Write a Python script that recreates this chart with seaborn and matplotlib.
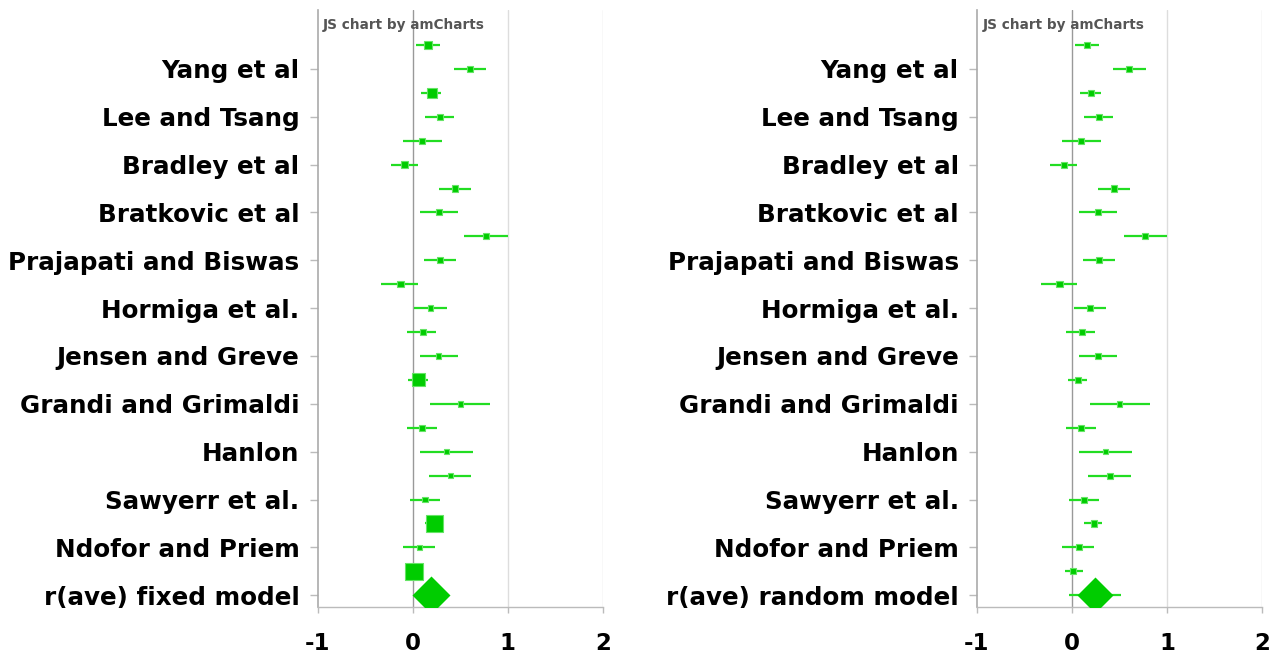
import numpy as np
import pandas as pd
import matplotlib
matplotlib.use("Agg")
import matplotlib.pyplot as plt
import seaborn as sns

# ---- data ----
study_labels = ["", "Yang et al", "", "Lee and Tsang", "", "Bradley et al", "",
                "Bratkovic et al", "", "Prajapati and Biswas", "", "Hormiga et al.",
                "", "Jensen and Greve", "", "Grandi and Grimaldi", "", "Hanlon", "",
                "Sawyerr et al.", "", "Ndofor and Priem", ""]
effect = [0.16, 0.60, 0.20, 0.285, 0.10, -0.085, 0.441, 0.272, 0.772, 0.286, -0.13, 0.186,
          0.104, 0.271, 0.06, 0.50, 0.10, 0.356, 0.40, 0.13, 0.23, 0.071, 0.012]
ci_low = [0.032, 0.43, 0.087, 0.13, -0.099, -0.228, 0.274, 0.073, 0.543, 0.118, -0.328, 0.019,
          -0.058, 0.073, -0.044, 0.186, -0.058, 0.073, 0.174, -0.028, 0.13, -0.10, -0.07]
ci_high = [0.285, 0.774, 0.302, 0.43, 0.304, 0.059, 0.616, 0.472, 1.0, 0.456, 0.059, 0.356,
           0.243, 0.472, 0.16, 0.816, 0.258, 0.63, 0.618, 0.288, 0.319, 0.23, 0.115]
weight_fixed = [16, 6.3, 20, 7.6, 7.6, 12, 7.6, 7.6, 7.6, 7.6, 9, 6.3,
                7.6, 6.3, 36, 6.3, 6.3, 6.3, 6.3, 6.3, 64, 6.3, 64]
weight_random = [7.6, 7.6, 7.6, 7.6, 7.6, 7.6, 7.6, 7.6, 7.6, 7.6, 7.6, 7.6,
                 7.6, 7.6, 7.6, 6.3, 7.6, 6.3, 7.6, 7.6, 7.6, 7.6, 7.6]
summary_labels = ["r(ave) fixed model", "r(ave) random model"]
summary_effect = [0.19, 0.247]
summary_low = [0.16, -0.028]
summary_high = [0.22, 0.517]
x_ticks = [-1, 0, 1, 2]

# ---- style ----
W, H = 1273, 666
DPI = 100
PX = 72 / DPI
GREEN = "#00CC00"
LINE_GREEN = "#22DD22"
EDGE_GREEN = "#66E466"

sns.set_theme(style="white")
plt.rcParams["font.family"] = ["DejaVu Sans"]

fig = plt.figure(figsize=(W / DPI, H / DPI), dpi=DPI)
ax_rects = [[317.5 / W, 59 / H, 285.5 / W, 597 / H],
            [976.7 / W, 59 / H, 285.5 / W, 597 / H]]
weights = [weight_fixed, weight_random]

n = len(effect)
for k in range(2):
    ax = fig.add_axes(ax_rects[k])
    df = pd.DataFrame({
        "effect": effect,
        "row": np.arange(n),
        "w": weights[k],
    })
    # confidence intervals
    ax.hlines(df["row"], ci_low, ci_high, color=LINE_GREEN, lw=1.6, zorder=3)
    ax.hlines([n], [summary_low[k]], [summary_high[k]], color=LINE_GREEN, lw=1.6, zorder=3)
    # study squares
    uniq = sorted(set(df["w"]))
    sizes = {v: v * 4.8 * PX * PX for v in uniq}
    sns.scatterplot(data=df, x="effect", y="row", size="w", sizes=sizes,
                    marker="s", color=GREEN, edgecolor=EDGE_GREEN, linewidth=0.8,
                    legend=False, ax=ax, zorder=4)
    # summary diamond
    sdf = pd.DataFrame({"effect": [summary_effect[k]], "row": [n]})
    dsz = (38 if k == 0 else 36) / np.sqrt(2) * PX
    sns.scatterplot(data=sdf, x="effect", y="row", marker="D", s=dsz ** 2,
                    color=GREEN, edgecolor=GREEN, linewidth=0, legend=False, ax=ax, zorder=5)

    ax.set_xlim(-1, 2)
    ax.set_ylim(n + 0.49, -1.46)
    labels = study_labels + [summary_labels[k]]
    tick_rows = [i for i, l in enumerate(labels) if l]
    ax.set_yticks(tick_rows)
    ax.set_yticklabels([labels[i] for i in tick_rows], fontsize=17.7, fontweight="bold",
                       color="#000000")
    ax.set_xticks(x_ticks)
    ax.set_xticklabels([str(t) for t in x_ticks], fontsize=16.5, fontweight="bold",
                       color="#000000")
    ax.set_xlabel("")
    ax.set_ylabel("")
    ax.tick_params(axis="y", left=True, length=8 * PX, width=1, color="#BBBBBB", pad=10 * PX)
    ax.tick_params(axis="x", bottom=True, length=6 * PX, width=1, color="#BBBBBB", pad=19 * PX)
    for t in [1, 2]:
        ax.axvline(t, color="#DDDDDD", lw=1, zorder=1)
    ax.axvline(0, color="#999999", lw=1, zorder=2)
    for s in ["top", "right"]:
        ax.spines[s].set_visible(False)
    ax.spines["left"].set_color("#AAAAAA")
    ax.spines["left"].set_linewidth(1.2)
    ax.spines["bottom"].set_color("#BBBBBB")
    ax.spines["bottom"].set_linewidth(1)
    ax.grid(False)
    ax.text(0.02, 1 - 15 / 597, "JS chart by amCharts", transform=ax.transAxes,
            fontsize=9.8, fontweight="bold", color="#555555", va="center", ha="left")

fig.savefig("out.png", dpi=DPI)
